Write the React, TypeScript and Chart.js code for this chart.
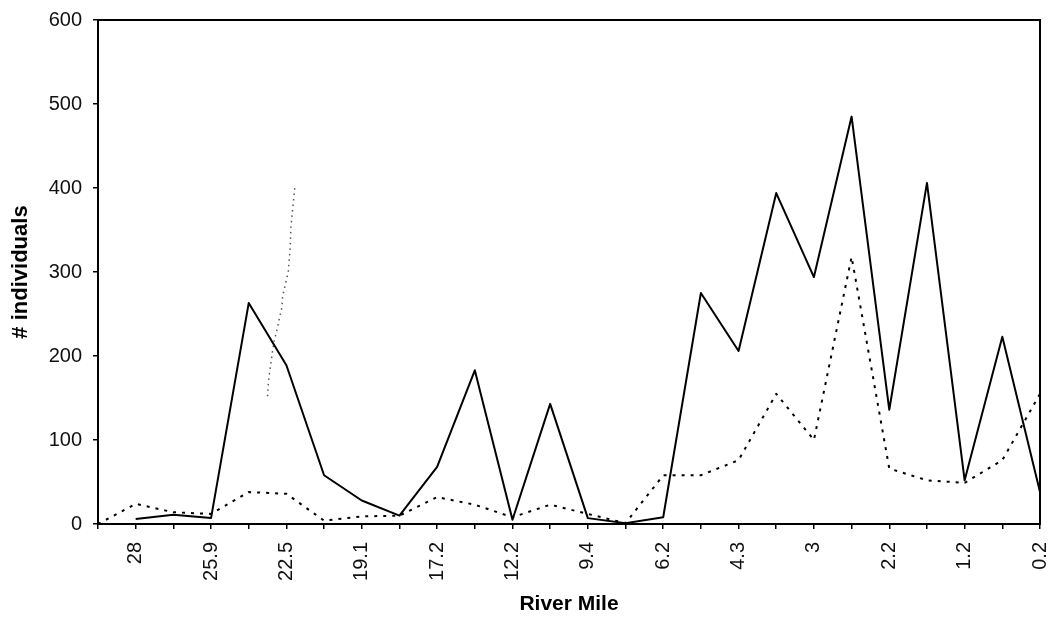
import React, { useEffect, useRef } from "react";
import { Chart, registerables } from "chart.js";

Chart.register(...registerables);

// Labelled river miles (every other sampling site carries a label)
const tickLabels = ["28", "25.9", "22.5", "19.1", "17.2", "12.2", "9.4", "6.2", "4.3", "3", "2.2", "1.2", "0.2"];
const categories: string[] = Array.from({ length: 26 }, (_, i) => (i % 2 === 1 ? tickLabels[(i - 1) / 2] : ""));

// Solid series
const solidValues: (number | null)[] = [
  null, 6, 11, 7, 263, 189, 58, 28, 10, 68, 183, 5, 143, 7, 1, 8, 275, 206, 394, 294, 485, 136, 406, 52, 223, 38,
];

// Dotted series
const dottedValues: number[] = [
  0, 24, 14, 12, 38, 36, 4, 9, 10, 32, 23, 8, 23, 12, 1, 58, 58, 76, 155, 100, 318, 66, 52, 49, 76, 155,
];

// Faint stray dotted trace near river mile 22.5 (x given as site position)
const strayX: number[] = [4.5, 4.52, 4.55, 4.58, 4.63, 4.68, 4.74, 4.8, 4.88, 4.9, 4.98, 5.05, 5.07, 5.1, 5.12, 5.2, 5.23];
const strayY: number[] = [152, 167, 179, 189, 205, 219, 229, 242, 258, 271, 287, 300, 312, 328, 354, 390, 404];

const yTicks = { min: 0, max: 600, step: 100 };

const FONT = "'Liberation Sans', Arial, sans-serif";

const framePlugin = {
  id: "frame",
  afterDraw(chart: any) {
    const { ctx, chartArea } = chart;
    ctx.save();
    ctx.strokeStyle = "#000";
    ctx.lineWidth = 2;
    ctx.strokeRect(chartArea.left, chartArea.top, chartArea.right - chartArea.left, chartArea.bottom - chartArea.top);
    ctx.restore();
  },
};

export default function App() {
  const ref = useRef<HTMLCanvasElement | null>(null);

  useEffect(() => {
    if (!ref.current) return;
    const chart = new Chart(ref.current, {
      type: "line",
      data: {
        labels: categories,
        datasets: [
          {
            label: "solid",
            data: solidValues,
            borderColor: "#000",
            borderWidth: 2,
            borderJoinStyle: "round",
            pointRadius: 0,
            tension: 0,
            fill: false,
          },
          {
            label: "dotted",
            data: dottedValues,
            borderColor: "#000",
            borderWidth: 2,
            borderDash: [3, 6],
            borderJoinStyle: "round",
            pointRadius: 0,
            tension: 0,
            fill: false,
          },
          {
            label: "stray",
            data: strayX.map((x, i) => ({ x, y: strayY[i] })),
            xAxisID: "xs",
            borderColor: "#555",
            borderWidth: 1.5,
            borderDash: [1.5, 4],
            pointRadius: 0,
            tension: 0,
            fill: false,
          } as any,
        ],
      },
      options: {
        animation: false,
        responsive: false,
        maintainAspectRatio: false,
        layout: { padding: { left: 0, top: 20, right: 14, bottom: 0 } },
        plugins: {
          legend: { display: false },
          tooltip: { enabled: false },
        },
        scales: {
          x: {
            type: "category",
            offset: false,
            grid: { drawOnChartArea: false, drawTicks: true, tickLength: 5, color: "#000", lineWidth: 1.5 },
            border: { color: "#000", width: 2 },
            ticks: {
              autoSkip: false,
              maxRotation: 90,
              minRotation: 90,
              padding: 13,
              color: "#111",
              font: { family: FONT, size: 20 },
            },
            title: {
              display: true,
              text: "River Mile",
              color: "#000",
              font: { family: FONT, size: 21, weight: "bold" },
              padding: { top: 0, bottom: 4 },
            },
            afterFit(scale: any) {
              scale.height = 97;
              scale.paddingLeft = 0;
              scale.paddingRight = 0;
            },
          },
          xs: {
            type: "linear",
            display: false,
            min: 0,
            max: 25,
            offset: false,
          },
          y: {
            type: "linear",
            min: yTicks.min,
            max: yTicks.max,
            grid: { drawOnChartArea: false, drawTicks: true, tickLength: 5, color: "#000", lineWidth: 1.5 },
            border: { color: "#000", width: 2 },
            ticks: {
              stepSize: yTicks.step,
              padding: 11,
              color: "#111",
              font: { family: FONT, size: 20 },
            },
            title: {
              display: true,
              text: "# individuals",
              color: "#000",
              font: { family: FONT, size: 22, weight: "bold" },
              padding: { top: 8, bottom: 0 },
            },
            afterFit(scale: any) {
              scale.width = 98;
              scale.paddingTop = 0;
              scale.paddingBottom = 0;
            },
          },
        },
      },
      plugins: [framePlugin],
    });
    return () => chart.destroy();
  }, []);

  return (
    <div style={{ position: "fixed", left: 0, top: 0, width: 1054, height: 621, background: "#fff" }}>
      <canvas ref={ref} width={1054} height={621} style={{ width: 1054, height: 621 }} />
    </div>
  );
}
